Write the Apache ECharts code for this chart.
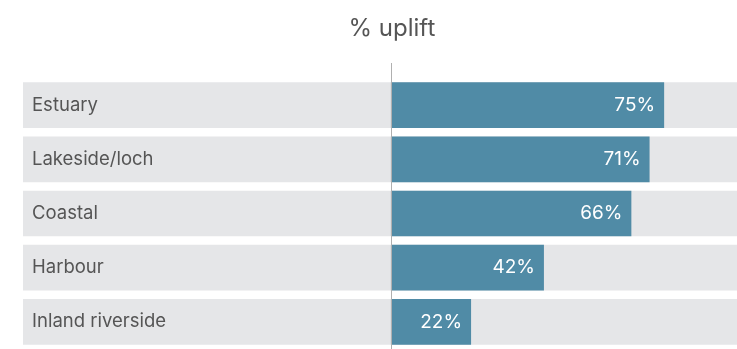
<!DOCTYPE html>
<html>
<head>
<meta charset="utf-8">
<style>
    html, body { margin: 0; padding: 0; background: #fff; }
    #chart { width: 737px; height: 349px; }
</style>
<script src="https://cdn.jsdelivr.net/npm/echarts@6/dist/echarts.min.js"></script>
</head>
<body>
<div id="chart"></div>
<script>
// data
var places = ['Estuary', 'Lakeside/loch', 'Coastal', 'Harbour', 'Inland riverside']
var uplift = [75, 71, 66, 42, 22]

var chart = echarts.init(document.getElementById('chart'))

chart.setOption({
    animation: false,
    textStyle: { fontFamily: 'Inter' },
    title: {
        text: '% uplift',
        left: 'center',
        top: 12,
        padding: 0,
        textStyle: { fontSize: 24, fontWeight: 'normal', color: '#555', fontFamily: 'Inter' },
    },
    grid: { left: 23, right: 0, top: 78, bottom: -1, containLabel: false },
    xAxis: {
        type: 'value',
        min: -101,
        max: 95,
        show: false,
    },
    yAxis: {
        type: 'category',
        data: places,
        inverse: true,
        axisLine: { show: false },
        axisTick: { show: false },
        axisLabel: {
            inside: true,
            margin: 9,
            fontSize: 18.5,
            color: '#555',
            fontFamily: 'Inter',
        },
        z: 5,
    },
    series: [
        {
            type: 'bar',
            data: uplift,
            barCategoryGap: '15.6%',
            itemStyle: { color: '#508ba6' },
            showBackground: true,
            backgroundStyle: { color: '#e5e6e8' },
            label: {
                show: true,
                position: 'insideRight',
                distance: 9,
                formatter: '{c}%',
                fontSize: 19,
                color: '#fff',
                fontFamily: 'Inter',
            },
        },
    ],
})

// thin zero line, running from above the first row down to the bottom
var x0 = Math.round(chart.convertToPixel({ xAxisIndex: 0 }, 0)) + 0.5
chart.setOption({
    title: { left: x0 - 43, top: 17 },
    graphic: [
        {
            type: 'line',
            shape: { x1: x0, y1: 63, x2: x0, y2: 349 },
            style: { stroke: '#b0b0b0', lineWidth: 1 },
            z: 10,
        },
    ],
})
</script>
</body>
</html>
